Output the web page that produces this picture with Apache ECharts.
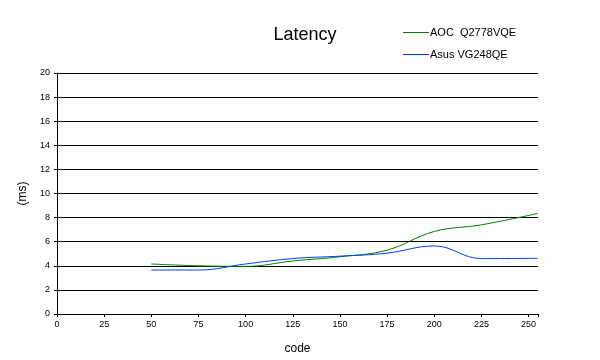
<!DOCTYPE html>
<html><head><meta charset="utf-8">
<script src="https://cdn.jsdelivr.net/npm/echarts@6/dist/echarts.min.js"></script>
<style>html,body{margin:0;padding:0;background:#fff}#c{width:600px;height:360px}</style>
</head><body><div id="c"></div>
<script>
const codes = [50, 75, 100, 125, 150, 175, 200, 225, 255];
const aoc = [4.15, 4.0, 3.95, 4.4, 4.75, 5.3, 6.85, 7.4, 8.35];
const asus = [3.65, 3.65, 4.15, 4.6, 4.8, 5.05, 5.65, 4.6, 4.62];
const seriesNames = ['AOC  Q2778VQE', 'Asus VG248QE'];
const xTicks = [0, 25, 50, 75, 100, 125, 150, 175, 200, 225, 250];

const chart = echarts.init(document.getElementById('c'), null, {renderer: 'canvas'});
const font = 'Liberation Sans, Arial, sans-serif';
chart.setOption({
  animation: false,
  backgroundColor: '#fff',
  title: {text: 'Latency', left: 300, top: 21, textAlign: 'center',
    textStyle: {fontFamily: font, fontSize: 18, fontWeight: 'normal', color: '#000'}},
  legend: {orient: 'vertical', left: 398, top: 22, itemGap: 11, itemWidth: 26, itemHeight: 1,
    icon: 'rect', textStyle: {fontFamily: font, fontSize: 11, color: '#000', padding: [0, 0, 0, -4]},
    data: seriesNames},
  grid: {left: 57, right: 62, top: 73, bottom: 45},
  xAxis: {type: 'value', min: 0, max: 255, interval: 25, name: 'code', nameLocation: 'middle', nameGap: 29,
    nameTextStyle: {fontFamily: font, fontSize: 12, color: '#000'},
    axisLine: {lineStyle: {color: '#000', width: 1}},
    axisTick: {show: true, length: 3, lineStyle: {color: '#000'}},
    axisLabel: {fontFamily: font, fontSize: 9, color: '#000', margin: 6,
      formatter: v => xTicks.includes(v) ? String(v) : ''},
    splitLine: {show: false}},
  yAxis: {type: 'value', min: 0, max: 20, interval: 2, name: '(ms)', nameLocation: 'middle', nameGap: 20,
    nameTextStyle: {fontFamily: font, fontSize: 12, color: '#000'},
    axisLine: {show: true, lineStyle: {color: '#000', width: 1}},
    axisTick: {show: true, length: 3, lineStyle: {color: '#000'}},
    axisLabel: {fontFamily: font, fontSize: 9, color: '#000', margin: 7},
    splitLine: {show: true, lineStyle: {color: '#000', width: 1}}},
  series: [
    {name: seriesNames[0], type: 'line', smooth: 0.4, showSymbol: false, symbol: 'none',
     data: codes.map((c, i) => [c, aoc[i]]), lineStyle: {color: '#008000', width: 1}, itemStyle: {color: '#008000'}},
    {name: seriesNames[1], type: 'line', smooth: 0.4, showSymbol: false, symbol: 'none',
     data: codes.map((c, i) => [c, asus[i]]), lineStyle: {color: '#0040ff', width: 1}, itemStyle: {color: '#0040ff'}}
  ]
});
</script></body></html>
